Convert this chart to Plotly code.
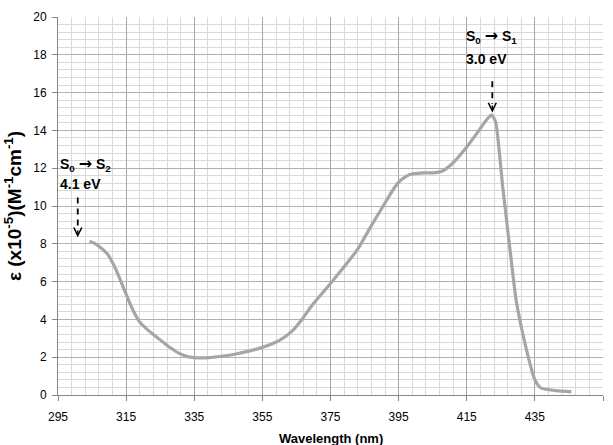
import plotly.graph_objects as go

# Absorption spectrum
wavelength_nm = [304.3, 305.5, 307.2, 309.6, 312.1, 314.5, 316.5, 318.9, 321.0, 323.0,
                 325.5, 328.0, 330.6, 333.0, 335.0, 339.4, 343.0, 347.2, 351.0, 355.0,
                 359.9, 363.7, 366.6, 369.6, 375.0, 380.4, 383.3, 386.3, 391.3, 393.5,
                 395.5, 398.1, 402.0, 405.0, 407.8, 410.8, 414.7, 418.6, 421.0, 422.3,
                 423.5, 425.5, 427.5, 429.5, 431.5, 433.5, 434.6, 435.8, 437.0, 439.3,
                 442.0, 445.7]
epsilon = [8.14, 8.05, 7.85, 7.44, 6.60, 5.55, 4.68, 3.88, 3.50, 3.20,
           2.85, 2.50, 2.20, 2.03, 1.98, 1.98, 2.05, 2.17, 2.32, 2.52,
           2.88, 3.38, 4.00, 4.75, 5.90, 7.10, 7.80, 8.75, 10.25, 10.90,
           11.35, 11.65, 11.75, 11.75, 11.85, 12.25, 13.05, 14.00, 14.60, 14.82,
           14.45, 11.10, 8.00, 5.00, 3.20, 1.70, 1.00, 0.55, 0.35, 0.28,
           0.22, 0.17]

x_ticks = [295, 315, 335, 355, 375, 395, 415, 435, 455]
y_ticks = [0, 2, 4, 6, 8, 10, 12, 14, 16, 18, 20]

# Transition annotations: label lines, text anchor, arrow x, arrow top, arrow tip
transitions = [
    {"from": "0", "to": "2", "energy": "4.1 eV",
     "text_x": 295.0, "y1": 12.2, "y2": 11.15, "arrow_x": 300.8, "arrow_top": 10.45, "arrow_tip": 8.35},
    {"from": "0", "to": "1", "energy": "3.0 eV",
     "text_x": 414.1, "y1": 19.0, "y2": 17.8, "arrow_x": 422.5, "arrow_top": 16.6, "arrow_tip": 14.95},
]

FONT = "Liberation Sans, Arial, sans-serif"
ARROW_SPAN = '<span style="font-family:DejaVu Sans;font-size:16px">→</span>'

fig = go.Figure()
fig.add_trace(go.Scatter(
    x=wavelength_nm, y=epsilon, mode="lines",
    line=dict(color="#a6a6a6", width=3.2, shape="spline", smoothing=0.5),
    showlegend=False, hoverinfo="x+y",
))

annotations = []
shapes = []
for t in transitions:
    line1 = "<b>S<sub>%s</sub> %s S<sub>%s</sub></b>" % (t["from"], ARROW_SPAN, t["to"])
    annotations.append(dict(x=t["text_x"], y=t["y1"], xref="x", yref="y",
                            text=line1, showarrow=False,
                            xanchor="left", yanchor="middle",
                            font=dict(family=FONT, size=14, color="black")))
    annotations.append(dict(x=t["text_x"], y=t["y2"], xref="x", yref="y",
                            text="<b>" + t["energy"] + "</b>", showarrow=False,
                            xanchor="left", yanchor="middle",
                            font=dict(family=FONT, size=14, color="black")))
    shapes.append(dict(type="line", xref="x", yref="y",
                       x0=t["arrow_x"], x1=t["arrow_x"],
                       y0=t["arrow_top"], y1=t["arrow_tip"] + 0.45,
                       line=dict(color="black", width=1.8, dash="6px,5px")))
    annotations.append(dict(x=t["arrow_x"], y=t["arrow_tip"], xref="x", yref="y",
                            text=" ", showarrow=True, arrowhead=5, arrowsize=1.2,
                            arrowwidth=1.3, arrowcolor="black", ax=0, ay=-9,
                            standoff=0, font=dict(size=1)))

# Axis titles
annotations.append(dict(x=0.5, y=0, xref="paper", yref="paper", yshift=-43,
                        text="<b>Wavelength (nm)</b>", showarrow=False,
                        xanchor="center", yanchor="middle",
                        font=dict(family=FONT, size=13, color="black")))
annotations.append(dict(x=0, y=0.5, xref="paper", yref="paper", xshift=-45,
                        text="<b>ε (x10<sup>-5</sup>)(M<sup>-1</sup>cm<sup>-1</sup>)</b>",
                        showarrow=False, textangle=-90,
                        xanchor="center", yanchor="middle",
                        font=dict(family=FONT, size=19, color="black")))

fig.update_layout(
    width=613, height=445,
    margin=dict(l=58, r=10, t=14, b=50),
    paper_bgcolor="white", plot_bgcolor="white",
    font=dict(family=FONT, size=12, color="black"),
    annotations=annotations, shapes=shapes,
    xaxis=dict(range=[295, 455], tickvals=x_ticks, ticktext=[str(v) for v in x_ticks],
               showgrid=True, gridcolor="#a6a6a6", gridwidth=1,
               minor=dict(dtick=4, tick0=295, showgrid=True, gridcolor="#d9d9d9", gridwidth=1),
               showline=True, linecolor="#868686", linewidth=1, mirror=False,
               ticks="outside", ticklen=5, tickcolor="#868686",
               ticklabelstandoff=6, zeroline=False,
               tickfont=dict(family=FONT, size=12, color="black")),
    yaxis=dict(range=[0, 20], tickvals=y_ticks, ticktext=[str(v) for v in y_ticks],
               showgrid=True, gridcolor="#b0b0b0", gridwidth=1,
               minor=dict(dtick=0.4, tick0=0, showgrid=True, gridcolor="#d9d9d9", gridwidth=1),
               showline=True, linecolor="#868686", linewidth=1,
               ticks="outside", ticklen=5, tickcolor="#868686",
               ticklabelstandoff=3, zeroline=False,
               tickfont=dict(family=FONT, size=12, color="black")),
)

fig.write_html("out.html", config={"displayModeBar": False},
               post_script="document.body.style.margin='0';document.body.style.overflow='hidden';")
